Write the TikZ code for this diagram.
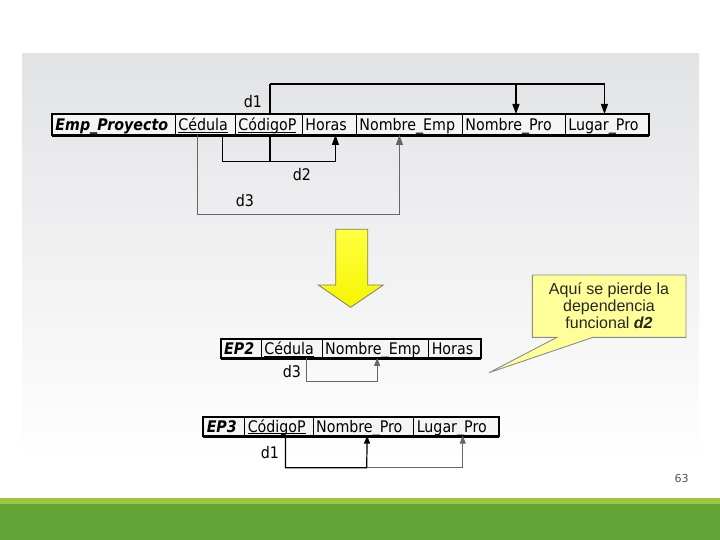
\documentclass[tikz,border=0pt]{standalone}
\usepackage{fontspec}
\setmainfont{DejaVu Sans}
\newfontfamily\tabfont[FakeStretch=0.89]{DejaVu Sans}
\newfontfamily\callfont{Liberation Sans}
\usetikzlibrary{arrows.meta,calc}
\newcommand\keyul[1]{\setbox0\hbox{#1}\rlap{\rule[-2pt]{\wd0}{0.9pt}}\box0}
\definecolor{cellfill}{HTML}{F5F5F6}
\definecolor{paneltop}{HTML}{E2E3E5}
\definecolor{lightgreen}{HTML}{9BC83E}
\definecolor{darkgreen}{HTML}{62A536}
\definecolor{calloutfill}{HTML}{FFFF99}
\definecolor{calloutline}{HTML}{8C8C8C}
\definecolor{arrowyellow}{HTML}{F5F500}
\definecolor{arrowline}{HTML}{7F7F60}
\definecolor{pagenum}{HTML}{555555}
\begin{document}
\begin{tikzpicture}[x=1pt,y=-1pt,
  cell/.style={draw=black, line width=0.9pt, fill=cellfill, inner xsep=3pt, inner ysep=0pt,
    anchor=north west, align=left, text height=14pt, text depth=2pt,
    font=\tabfont\fontsize{16}{16}\selectfont},
  toprow/.style={cell, minimum height=20pt},
  eprow/.style={cell, minimum height=18pt},
  dep/.style={draw=black, line width=1.2pt},
  deplite/.style={draw=black!60, line width=0.8pt},
  bigtip/.style={-{Triangle[length=10pt,width=7pt]}},
  smalltip/.style={-{Triangle[length=8pt,width=6pt]}},
  dlabel/.style={font=\tabfont\fontsize{16}{16}\selectfont, inner sep=0pt},
  border/.style={draw=black, line width=2pt},
  shadowline/.style={draw=black, line width=3pt}
]
\useasboundingbox (0,0) rectangle (720,540);
\fill[white] (0,0) rectangle (720,540);
% grey panel
\shade[top color=paneltop, bottom color=white] (22,54) rectangle (699,465);
% green bars
\fill[lightgreen] (0,498) rectangle (720,504);
\fill[darkgreen] (0,504) rectangle (720,540);
\node[font=\fontsize{11}{12}\selectfont, text=pagenum, inner sep=0pt] (pnum) at (681.5,478) {63};

% ---------- top relation ----------
% (lines first, so the cells hide them)
\coordinate (d1c) at (270,84);
\draw[dep] (270,161) -- (d1c);
\node[toprow, text width=117pt] (emp) at (52,114) {\textbf{\textit{Emp\_Proyecto}}};
\node[toprow, text width=54pt] (ced) at (175,114) {\keyul{Cédula}};
\node[toprow, text width=61pt] (cod) at (235,114) {\keyul{CódigoP}};
\node[toprow, text width=48pt] (hor) at (302,114) {Horas};
\node[toprow, text width=100pt] (nemp) at (356,114) {Nombre\_Emp};
\node[toprow, text width=97pt] (npro) at (462,114) {Nombre\_Pro};
\node[toprow, text width=77pt] (lug) at (565,114) {Lugar\_Pro};
\draw[border] (emp.north west) rectangle (lug.south east);
\draw[shadowline] ([yshift=-0.5pt]emp.south west) -- ([yshift=-0.5pt]lug.south east);

% d1
\draw[dep] ([xshift=1.5pt]cod.south) -- ++(0,27);
\draw[dep, bigtip] (d1c) -| ([xshift=2pt]npro.north);
\draw[dep, bigtip] (d1c) -| ([xshift=-2.5pt]lug.north);
\node[dlabel] (d1lab) at (253,101.5) {d1};
% d2
\draw[dep, bigtip] ([xshift=17pt]ced.south) -- ++(0,27) -| ([xshift=6pt]hor.south);
\node[dlabel] (d2lab) at (302,175) {d2};
% d3
\draw[deplite, bigtip] ([xshift=-8.3pt]ced.south) -- ++(0,79.3) -| ([xshift=-10pt]nemp.south);
\node[dlabel] (d3lab) at (245,201) {d3};

% ---------- yellow arrow ----------
\shade[top color=yellow!75!white, bottom color=arrowyellow, draw=arrowline, line width=0.8pt, line join=miter]
  (335.7,229.3) -- (367.7,229.3) -- (367.7,285) -- (383.3,285) -- (350.7,307.3)
  -- (318.3,285) -- (335.7,285) -- cycle;

% ---------- callout ----------
\filldraw[fill=calloutfill, draw=calloutline, line width=0.9pt, line join=miter]
  (532.3,275) -- (686,275) -- (686,337.3) -- (593,337.3) -- (489,372.7)
  -- (557,337.3) -- (532.3,337.3) -- cycle;
\node[font=\callfont\fontsize{16}{17}\selectfont, text=black!85, align=center, inner sep=0pt]
  (callout) at (609,305.5) {Aquí se pierde la\\dependencia\\funcional \textbf{\textit{d2}}};

% ---------- EP2 ----------
\node[eprow, text width=34.3pt] (ep2) at (220.7,339) {\textbf{\textit{EP2}}};
\node[eprow, text width=54.7pt] (ced2) at (261,339) {\keyul{Cédula}};
\node[eprow, text width=100.6pt] (nemp2) at (321.7,339) {Nombre\_Emp};
\node[eprow, text width=45.7pt] (hor2) at (428.3,339) {Horas};
\draw[border] (ep2.north west) rectangle (hor2.south east);
\draw[shadowline] ([yshift=-0.5pt]ep2.south west) -- ([yshift=-0.5pt]hor2.south east);
\draw[deplite, smalltip] ([xshift=14.35pt]ced2.south) -- ++(0,23) -| ([xshift=1.7pt]nemp2.south);
\node[dlabel] (d3b) at (292,371.5) {d3};

% ---------- EP3 ----------
\node[eprow, text width=35pt] (ep3) at (203.3,416.7) {\textbf{\textit{EP3}}};
\node[eprow, text width=62.4pt] (cod3) at (244.3,416.7) {\keyul{CódigoP}};
\node[eprow, text width=94.6pt] (npro3) at (312.7,416.7) {Nombre\_Pro};
\node[eprow, text width=78.4pt] (lug3) at (413.3,416.7) {Lugar\_Pro};
\draw[border] (ep3.north west) rectangle (lug3.south east);
\draw[shadowline] ([yshift=-0.5pt]ep3.south west) -- ([yshift=-0.5pt]lug3.south east);
\coordinate (j3) at (366.7,467.7);
\draw[dep, smalltip] ([xshift=6.5pt]cod3.south) |- (j3) -- ([xshift=3.7pt]npro3.south);
\draw[deplite, smalltip] (j3) -| ([xshift=6.8pt]lug3.south);
\node[dlabel] (d1b) at (270,453) {d1};
\end{tikzpicture}
\end{document}
